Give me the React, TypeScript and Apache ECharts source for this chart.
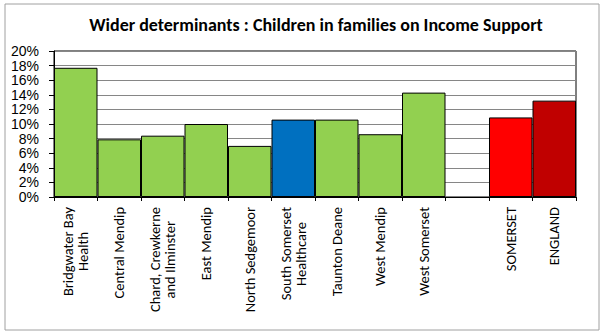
import React, { useEffect, useRef } from "react";
import * as echarts from "echarts";

const categories = [
  "Bridgwater Bay\nHealth",
  "Central Mendip",
  "Chard, Crewkerne\nand Ilminster",
  "East Mendip",
  "North Sedgemoor",
  "South Somerset\nHealthcare",
  "Taunton Deane",
  "West Mendip",
  "West Somerset",
  "",
  "SOMERSET",
  "ENGLAND",
];
const values: (number | null)[] = [0.177, 0.079, 0.084, 0.1, 0.07, 0.106, 0.106, 0.086, 0.143, null, 0.109, 0.132];
const barColors = ["#92D050", "#92D050", "#92D050", "#92D050", "#92D050", "#0070C0", "#92D050", "#92D050", "#92D050", "#92D050", "#FF0000", "#C00000"];
const titleText = "Wider determinants : Children in families on Income Support";

const FONT = "Carlito, 'Liberation Sans', Arial, sans-serif";
const Y_FONT = "'Liberation Sans', Arial, sans-serif";
const X_SIZE = 14.5;

function measure(text: string): number {
  const c = document.createElement("canvas");
  const ctx = c.getContext("2d");
  if (!ctx) return text.length * 7;
  ctx.font = X_SIZE + "px Carlito, 'Liberation Sans', Arial, sans-serif";
  return ctx.measureText(text).width;
}

export default function App() {
  const ref = useRef<HTMLDivElement>(null);
  useEffect(() => {
    if (!ref.current) return;
    const chart = echarts.init(ref.current, undefined, { renderer: "svg" });
    const rich: Record<string, any> = {};
    const fmt: string[] = [];
    categories.forEach((cat, i) => {
      const lines = cat.split("\n");
      if (lines.length > 1) {
        const widths = lines.map(measure);
        const maxW = Math.max(...widths);
        fmt[i] = lines
          .map((l, j) => {
            const key = "m" + i + "_" + j;
            const pad = Math.max(0, Math.round((maxW - widths[j]) / 2));
            rich[key] = {
              fontFamily: FONT,
              fontSize: X_SIZE,
              lineHeight: 15,
              color: "#000",
              padding: [0, pad, 0, 0],
            };
            return "{" + key + "|" + l + "}";
          })
          .join("\n");
      } else {
        fmt[i] = cat;
      }
    });
    chart.setOption({
      animation: false,
      backgroundColor: "#ffffff",
      title: {
        text: titleText,
        left: 311,
        top: 11,
        textAlign: "center",
        textStyle: { fontFamily: FONT, fontSize: 18, fontWeight: "bold", color: "#000" },
      },
      graphic: [
        {
          type: "rect",
          shape: { x: 5, y: 4, width: 594, height: 326 },
          style: { fill: "none", stroke: "#a0a0a0", lineWidth: 1 },
          silent: true,
        },
      ],
      grid: {
        left: 54,
        right: 24,
        top: 51,
        bottom: 134,
        show: true,
        borderColor: "#000",
        borderWidth: 1,
        backgroundColor: "transparent",
      },
      xAxis: {
        type: "category",
        data: categories,
        axisLine: { lineStyle: { color: "#000", width: 1 } },
        axisTick: { show: true, length: 4, lineStyle: { color: "#000" }, interval: 0 },
        axisLabel: {
          interval: 0,
          rotate: 90,
          margin: 10,
          fontFamily: FONT,
          fontSize: X_SIZE,
          color: "#000",
          lineHeight: 15,
          formatter: (v: string, i: number) => fmt[i] ?? v,
          rich,
        },
        splitLine: { show: false },
      },
      yAxis: {
        type: "value",
        min: 0,
        max: 0.2,
        interval: 0.02,
        axisLine: { show: true, lineStyle: { color: "#000", width: 1 } },
        axisTick: { show: true, length: 5, lineStyle: { color: "#000" } },
        axisLabel: {
          margin: 15,
          fontFamily: Y_FONT,
          fontSize: 14,
          lineHeight: 14,
          color: "#000",
          hideOverlap: false,
          showMinLabel: true,
          showMaxLabel: true,
          formatter: (v: number) => Math.round(v * 100) + "%",
        },
        splitLine: { show: true, lineStyle: { color: "#868686", width: 1 } },
      },
      series: [
        {
          type: "bar",
          barWidth: "100%",
          barCategoryGap: "0%",
          data: values.map((v, i) => ({
            value: v === null ? "-" : v,
            itemStyle: { color: barColors[i], borderColor: "#000", borderWidth: 1 },
          })),
        },
      ],
    });
    return () => chart.dispose();
  }, []);
  return (
    <div
      ref={ref}
      style={{ position: "fixed", left: 0, top: 0, width: 600, height: 331 }}
    />
  );
}
